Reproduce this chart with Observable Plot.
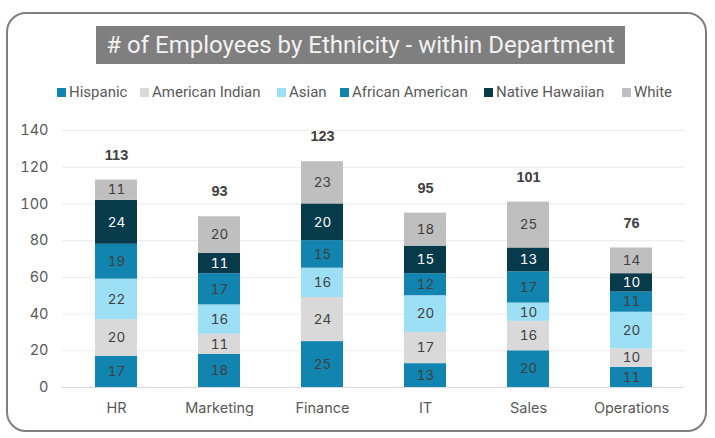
<!DOCTYPE html>
<html>
<head>
<meta charset="utf-8">
<script src="https://cdn.jsdelivr.net/npm/d3@7"></script>
<script src="https://cdn.jsdelivr.net/npm/@observablehq/plot@0.6"></script>
<style>
  html, body { margin: 0; padding: 0; background: #fff; }
  #wrap { position: relative; width: 715px; height: 438px; overflow: hidden; }
  #frame { position: absolute; left: 6px; top: 12px; width: 697px; height: 416px; border: 2px solid #7f7f7f; border-radius: 20px; box-sizing: content-box; }
  #title { position: absolute; left: 96px; top: 26px; width: 529px; height: 38px; background: #7f7f7f; color: #f2f2f2;
           font-family: "Liberation Sans Narrow", "Roboto", sans-serif; font-size: 24px; line-height: 38px; text-align: center; }
  #legend { position: absolute; top: 83px; left: 0; width: 715px; height: 18px; font-family: "Liberation Sans Narrow", "Roboto", sans-serif;
            font-size: 15px; color: #595959; }
  .item { position: absolute; top: 0; display: flex; align-items: center; height: 18px; white-space: nowrap; }
  .sw { width: 9px; height: 9px; margin-right: 3px; }
  #chart { position: absolute; left: 0; top: 110px; }
</style>
</head>
<body>
<div id="wrap">
  <div id="frame"></div>
  <div id="title"># of Employees by Ethnicity - within Department</div>
  <div id="legend"></div>
  <div id="chart"></div>
</div>
<script>
const departments = ["HR", "Marketing", "Finance", "IT", "Sales", "Operations"];
const ethnicities = ["Hispanic", "American Indian", "Asian", "African American", "Native Hawaiian", "White"];
const colors = ["#1185af", "#d9d9d9", "#9ddff5", "#1185af", "#073a4b", "#bfbfbf"];
const hispanic = [17, 18, 25, 13, 20, 11];
const americanIndian = [20, 11, 24, 17, 16, 10];
const asian = [22, 16, 16, 20, 10, 20];
const africanAmerican = [19, 17, 15, 12, 17, 11];
const nativeHawaiian = [24, 11, 20, 15, 13, 10];
const white = [11, 20, 23, 18, 25, 14];
const yTicks = [0, 20, 40, 60, 80, 100, 120, 140];
const legendX = [57, 140, 277, 340, 484, 622];

const series = [hispanic, americanIndian, asian, africanAmerican, nativeHawaiian, white];
const data = [];
departments.forEach((dept, i) => {
  ethnicities.forEach((eth, j) => data.push({dept, eth, value: series[j][i]}));
});
const totals = departments.map((dept, i) => ({dept, total: series.reduce((s, arr) => s + arr[i], 0)}));

// legend
const legend = document.getElementById("legend");
ethnicities.forEach((eth, j) => {
  const it = document.createElement("div");
  it.className = "item";
  it.style.left = legendX[j] + "px";
  it.innerHTML = `<span class="sw" style="background:${colors[j]}"></span><span>${eth}</span>`;
  legend.appendChild(it);
});

const font = "Inter, 'Open Sans', sans-serif";
const chart = Plot.plot({
  width: 715,
  height: 328,
  marginTop: 20,
  marginBottom: 51,
  marginLeft: 62,
  marginRight: 31,
  style: {fontFamily: font, fontSize: "14.5px", color: "#595959", background: "transparent", overflow: "visible"},
  x: {domain: departments, paddingInner: 0.595, paddingOuter: 0.2975, label: null, tickSize: 0, tickPadding: 15},
  y: {domain: [0, 140], ticks: yTicks, label: null, tickSize: 0, tickPadding: 14},
  color: {domain: ethnicities, range: colors},
  marks: [
    Plot.ruleY(yTicks.slice(1), {stroke: "#ebebeb", strokeWidth: 1}),
    Plot.barY(data, {x: "dept", y: "value", fill: "eth"}),
    Plot.ruleY([0], {stroke: "#d9d9d9", strokeWidth: 1}),
    Plot.text(data, Plot.stackY({x: "dept", y: "value", text: "value",
      fill: d => d.eth === "Native Hawaiian" ? "#ffffff" : "#404040", fontSize: 13.5})),
    Plot.text(totals, {x: "dept", y: "total", text: "total", dy: -25, fontWeight: "bold", fontSize: 14.5,
      fill: "#404040", fontFamily: "'Liberation Sans', Arial, sans-serif"})
  ]
});
document.getElementById("chart").appendChild(chart);
</script>
</body>
</html>
